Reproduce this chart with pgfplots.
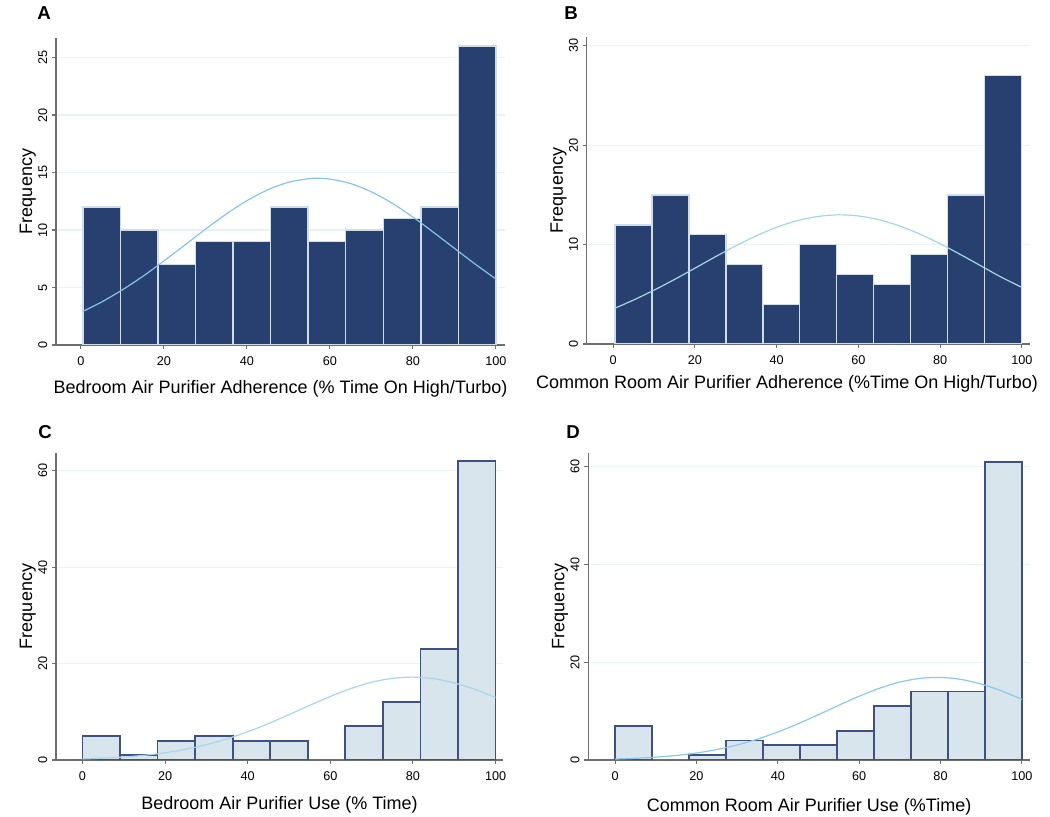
\documentclass[border=0pt]{standalone}
\usepackage{fontspec}
\setmainfont{Liberation Sans}
\usepackage{pgfplots}
\pgfplotsset{compat=1.18}

\definecolor{navy}{HTML}{27406F}
\definecolor{edgelight}{HTML}{D0DCE6}
\definecolor{lightfill}{HTML}{D9E5EC}
\definecolor{navyedge}{HTML}{3F5183}
\definecolor{curveA}{HTML}{84C4EA}
\definecolor{curveB}{HTML}{A5D5E6}
\definecolor{curveC}{HTML}{A8D5EA}
\definecolor{curveD}{HTML}{8CC8EE}
\definecolor{gridc}{HTML}{E8F1F4}
\definecolor{axisgray}{HTML}{6E6E6E}

\pgfplotsset{
  histo/.style={
    scale only axis,
    anchor=south west,
    axis x line*=bottom,
    axis y line*=left,
    axis line style={draw=axisgray, line width=0.8pt, -},
    tick align=outside,
    major tick length=3pt,
    tick style={axisgray, line width=0.8pt},
    ymin=0,
    xtick={0,20,40,60,80,100},
    ymajorgrids,
    grid style={gridc, line width=0.8pt},
    tick label style={font=\fontsize{9.5}{11}\selectfont},
    xticklabel style={yshift=-2pt},
    yticklabel style={rotate=90, anchor=south},
    /pgf/number format/assume math mode=true,
    label style={font=\fontsize{13.5}{16}\selectfont},
    ylabel={Frequency},
    ylabel shift=-5pt,
  },
}

\begin{document}
\begin{tikzpicture}
\useasboundingbox (0,0) rectangle (787.5pt,612.75pt);

% ---------- A ----------
\begin{axis}[histo, at={(42pt,354pt)}, width=336.75pt, height=230.25pt,
  xmin=-6.0, xmax=102.2, ymax=26.7, ytick={0,5,10,15,20,25},
  xlabel={Bedroom Air Purifier Adherence (\% Time On High/Turbo)},
  xlabel style={yshift=-4.5pt}]
\addplot[ybar, bar width=9.045, bar shift=0pt, fill=navy, draw=edgelight, line width=1.1pt]
coordinates {
  (5.02,12) (14.07,10) (23.11,7) (32.16,9) (41.20,9) (50.25,12)
  (59.30,9) (68.34,10) (77.39,11) (86.43,12) (95.48,26)
};
\addplot[smooth, curveA, line width=0.9pt] coordinates {
  (0.5,2.93) (5,3.74) (10,4.80) (15,5.99) (20,7.31) (25,8.68) (30,10.07)
  (35,11.38) (40,12.55) (45,13.49) (50,14.15) (55,14.47) (57,14.5) (60,14.43)
  (65,14.04) (70,13.32) (75,12.33) (80,11.13) (85,9.79) (90,8.41) (95,7.04) (100,5.74)
};
\end{axis}

% ---------- B ----------
\begin{axis}[histo, at={(440pt,354.75pt)}, width=332.5pt, height=230.25pt,
  xmin=-6.5, xmax=102, ymax=30.9, ytick={0,10,20,30},
  xlabel={Common Room Air Purifier Adherence (\%Time On High/Turbo)},
  xlabel style={yshift=-1.5pt, xshift=-16pt}]
\addplot[ybar, bar width=9.045, bar shift=0pt, fill=navy, draw=edgelight, line width=1.1pt]
coordinates {
  (4.92,12) (13.97,15) (23.02,11) (32.07,8) (41.12,4) (50.17,10)
  (59.22,7) (68.27,6) (77.32,9) (86.37,15) (95.42,27)
};
\addplot[smooth, curveB, line width=0.9pt] coordinates {
  (0.4,3.60) (5,4.43) (10,5.42) (15,6.50) (20,7.63) (25,8.78) (30,9.88)
  (35,10.88) (40,11.75) (45,12.41) (50,12.83) (55,13.0) (60,12.89) (65,12.51)
  (70,11.89) (75,11.07) (80,10.09) (85,9.00) (90,7.86) (95,6.72) (100,5.70)
};
\end{axis}

% ---------- C ----------
\begin{axis}[histo, at={(42pt,42.75pt)}, width=335.25pt, height=230.25pt,
  xmin=-6.4, xmax=101.8, ymax=63.7, ytick={0,20,40,60},
  xlabel={Bedroom Air Purifier Use (\% Time)},
  xlabel style={yshift=-5.5pt}]
\addplot[ybar, bar width=9.09, bar shift=0pt, fill=lightfill, draw=navyedge, line width=1.3pt]
coordinates {
  (4.55,5) (13.64,1) (22.73,4) (31.82,5) (40.91,4) (50.0,4)
  (68.18,7) (77.27,12) (86.36,23) (95.45,62)
};
\addplot[smooth, curveC, line width=0.9pt] coordinates {
  (0,0.22) (5,0.38) (10,0.62) (15,0.98) (20,1.50) (25,2.22) (30,3.17)
  (35,4.38) (40,5.85) (45,7.54) (50,9.41) (55,11.33) (60,13.19) (65,14.84)
  (70,16.13) (75,16.94) (80,17.2) (85,16.87) (90,16.0) (95,14.65) (100,12.97)
};
\end{axis}

% ---------- D ----------
\begin{axis}[histo, at={(441.2pt,42.75pt)}, width=331.3pt, height=230.25pt,
  xmin=-6.6, xmax=102, ymax=62.8, ytick={0,20,40,60},
  xlabel={Common Room Air Purifier Use (\%Time)},
  xlabel style={yshift=-6.5pt}]
\addplot[ybar, bar width=9.09, bar shift=0pt, fill=lightfill, draw=navyedge, line width=1.3pt]
coordinates {
  (4.55,7) (22.73,1) (31.82,4) (40.91,3) (50.0,3)
  (59.09,6) (68.18,11) (77.27,14) (86.36,14) (95.45,61)
};
\addplot[smooth, curveD, line width=0.9pt] coordinates {
  (0,0.20) (5,0.35) (10,0.58) (15,0.92) (20,1.43) (25,2.13) (30,3.07)
  (35,4.27) (40,5.73) (45,7.42) (50,9.28) (55,11.20) (60,13.05) (65,14.68)
  (70,15.94) (75,16.70) (80,16.89) (85,16.49) (90,15.53) (95,14.13) (100,12.41)
};
\end{axis}

\node[font=\fontsize{14}{16}\bfseries\selectfont] at (33pt,603pt) {A};
\node[font=\fontsize{14}{16}\bfseries\selectfont] at (428.25pt,603pt) {B};
\node[font=\fontsize{14}{16}\bfseries\selectfont] at (33.75pt,288.75pt) {C};
\node[font=\fontsize{14}{16}\bfseries\selectfont] at (429.75pt,288.75pt) {D};
\end{tikzpicture}
\end{document}
